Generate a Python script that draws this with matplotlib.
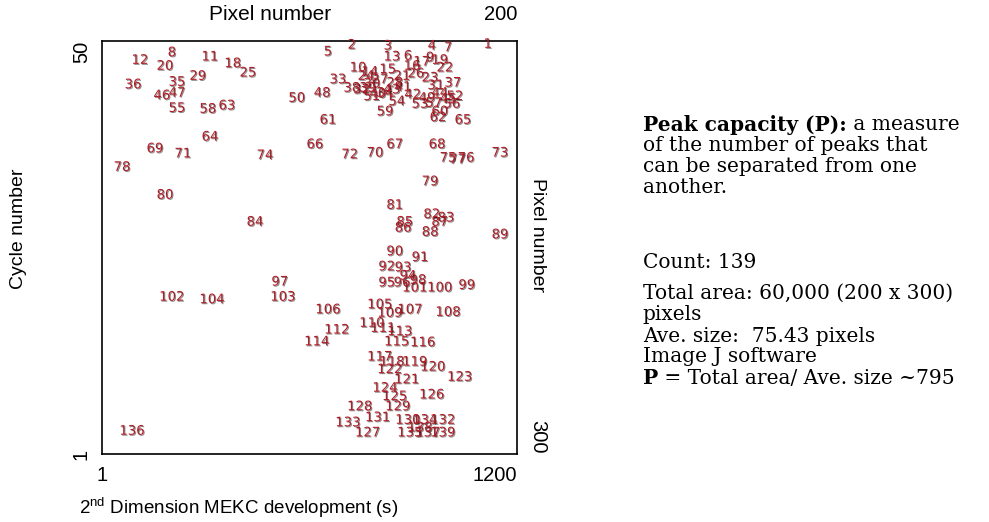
import matplotlib
matplotlib.use("Agg")
from matplotlib import pyplot as plt
import matplotlib.patheffects as pe

# Peak positions
# x: 2nd dimension MEKC development time (s), y: cycle number
peak_ids = list(range(1, 140))
peak_time = [
    1116, 723, 827, 954, 654, 885, 1001, 203, 949, 741,
    313, 111, 839, 775, 827, 897, 925, 379, 977, 183,
    868, 992, 949, 764, 423, 908, 804, 847, 278, 781,
    966, 752, 683, 819, 218, 91, 1015, 723, 769, 798,
    871, 899, 839, 977, 1001, 174, 218, 637, 940, 564,
    781, 1021, 920, 853, 218, 1012, 960, 307, 819, 977,
    654, 972, 362, 313, 1044, 616, 847, 969, 154, 790,
    235, 717, 1151, 472, 1001, 1053, 1029, 59, 949, 183,
    847, 954, 995, 443, 876, 871, 977, 949, 1151, 847,
    920, 824, 871, 885, 824, 868, 515, 914, 1055, 977,
    905, 203, 524, 319, 804, 654, 891, 1001, 833, 781,
    813, 680, 862, 622, 853, 928, 804, 839, 905, 957,
    882, 833, 1035, 819, 847, 954, 769, 746, 856, 885,
    798, 986, 712, 934, 891, 88, 943, 920, 986,
]
peak_cycle = [
    49.6, 49.5, 49.4, 49.4, 48.7, 48.2, 49.2, 48.6, 48.0, 46.8,
    48.1, 47.7, 48.1, 46.3, 46.6, 47.0, 47.5, 47.3, 47.7, 47.0,
    45.8, 46.8, 45.6, 45.8, 46.2, 46.1, 45.4, 45.0, 45.8, 44.9,
    44.7, 44.2, 45.4, 43.8, 45.1, 44.8, 45.0, 44.4, 44.4, 43.7,
    44.5, 43.6, 44.2, 43.8, 43.1, 43.5, 43.8, 43.8, 43.2, 43.2,
    43.4, 43.4, 42.5, 42.8, 42.0, 42.5, 42.6, 41.9, 41.6, 41.6,
    40.6, 40.9, 42.3, 38.6, 40.6, 37.7, 37.7, 37.7, 37.2, 36.7,
    36.6, 36.5, 36.7, 36.4, 36.1, 36.1, 35.9, 35.0, 33.3, 31.7,
    30.5, 29.4, 29.0, 28.5, 28.5, 27.8, 28.5, 27.3, 27.0, 25.0,
    24.3, 23.2, 23.1, 22.1, 21.3, 21.3, 21.4, 21.6, 21.0, 20.7,
    20.7, 19.6, 19.6, 19.3, 18.7, 18.1, 18.1, 17.8, 17.7, 16.5,
    15.9, 15.7, 15.5, 14.3, 14.3, 14.2, 12.5, 11.9, 11.9, 11.3,
    9.8, 11.0, 10.1, 8.8, 7.8, 8.0, 3.5, 6.6, 6.6, 5.0,
    5.3, 5.0, 4.7, 5.0, 3.5, 3.7, 3.5, 4.1, 3.5,
]

info_lines = [
    "of the number of peaks that",
    "can be separated from one",
    "another.",
]
stats_lines = [
    "Count: 139",
    "Total area: 60,000 (200 x 300)",
    "pixels",
    "Ave. size:  75.43 pixels",
    "Image J software",
]

plt.rcParams['font.family'] = ['Liberation Sans', 'DejaVu Sans']
plt.rcParams['mathtext.fontset'] = 'custom'
plt.rcParams['mathtext.rm'] = 'Liberation Sans'

fig = plt.figure(figsize=(9.89, 5.22), dpi=100)
ax = fig.add_axes([0.1031, 0.1303, 0.4196, 0.7912])
ax.set_xlim(1, 1200)
ax.set_ylim(1, 50)

shadow = [pe.withSimplePatchShadow(offset=(0.7, -0.7), shadow_rgbFace='black', alpha=0.45)]
for pid, t, c in zip(peak_ids, peak_time, peak_cycle):
    ax.text(t, c, str(pid), color='#b01e28', fontsize=9.5, family='DejaVu Sans',
            ha='center', va='center', path_effects=shadow)

# axis ticks: only the end values
ax.set_xticks([1, 1200])
ax.set_xticklabels(['1', '1200'], fontsize=14.5)
ax.get_xticklabels()[1].set_horizontalalignment('right')
ax.set_yticks([1, 50])
ax.set_yticklabels(['1', '50'], fontsize=14.5, rotation=90, va='center')
ax.get_yticklabels()[1].set_verticalalignment('top')
ax.get_yticklabels()[1].set_y(49.2)
ax.tick_params(axis='x', length=0, pad=9)
ax.tick_params(axis='y', length=0, pad=8)
for s in ax.spines.values():
    s.set_linewidth(1.2)

ax.set_xlabel('2$^{\\mathrm{nd}}$ Dimension MEKC development (s)', fontsize=13.5)
ax.xaxis.set_label_coords(0.33, -0.1)
ax.set_ylabel('Cycle number', fontsize=14)
ax.yaxis.set_label_coords(-0.18, 0.545)

# top / right pixel scale of the image
ax.text(0.405, 1.065, 'Pixel number', transform=ax.transAxes, fontsize=15, ha='center', va='center')
ax.text(1.0, 1.065, '200', transform=ax.transAxes, fontsize=14.5, ha='right', va='center')
ax.text(1.05, 0.53, 'Pixel number', transform=ax.transAxes, fontsize=14,
        rotation=-90, ha='center', va='center')
ax.text(1.05, 0.0, '300', transform=ax.transAxes, fontsize=14.5,
        rotation=-90, ha='center', va='bottom')

# text panel on the right
serif = 'DejaVu Serif'
fs = 14.5
x0 = 0.650
head = fig.text(x0, 1 - 125 / 522, 'Peak capacity (P):', family=serif, fontsize=fs,
                fontweight='bold', va='center')
fig.canvas.draw()
bb = head.get_window_extent().transformed(fig.transFigure.inverted())
fig.text(bb.x1, 1 - 125 / 522, ' a measure', family=serif, fontsize=fs, va='center')
for i, line in enumerate(info_lines):
    fig.text(x0, 1 - (146 + 21 * i) / 522, line, family=serif, fontsize=fs, va='center')
stat_y = [262, 293, 315, 336, 357]
for y, line in zip(stat_y, stats_lines):
    fig.text(x0, 1 - y / 522, line, family=serif, fontsize=fs, va='center')
pb = fig.text(x0, 1 - 378 / 522, 'P', family=serif, fontsize=fs, fontweight='bold', va='center')
fig.canvas.draw()
bb = pb.get_window_extent().transformed(fig.transFigure.inverted())
fig.text(bb.x1, 1 - 378 / 522, ' = Total area/ Ave. size ~795', family=serif, fontsize=fs, va='center')

plt.savefig('out.png', dpi=100)
